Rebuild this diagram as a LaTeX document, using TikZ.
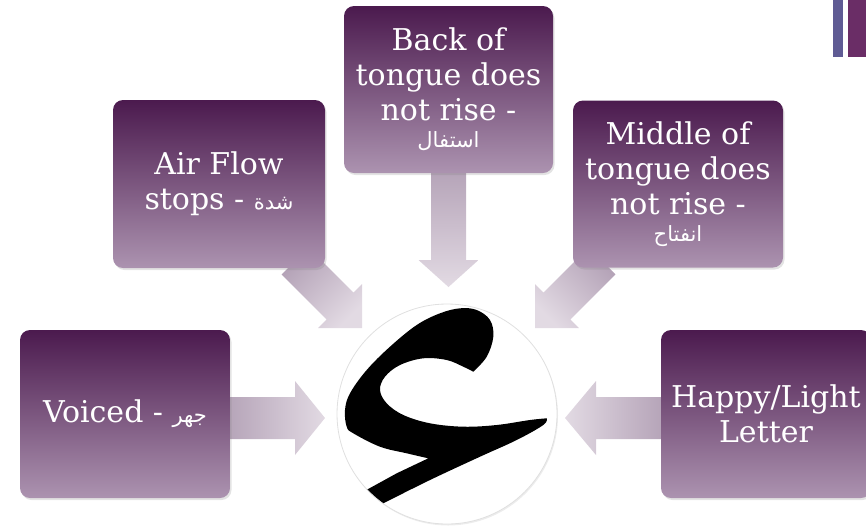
\documentclass[tikz,border=0pt]{standalone}
\usepackage{fontspec}
\usetikzlibrary{calc,shadows}
\TeXXeTstate=1
\newfontfamily\boxfont{DejaVu Serif}
\newfontfamily\arfont[Script=Arabic]{DejaVu Sans}
\definecolor{boxtop}{HTML}{4B1A4E}
\definecolor{boxbot}{HTML}{AC93B0}
\definecolor{arrA}{HTML}{B3A1B6}
\definecolor{arrB}{HTML}{E2DAE3}
\definecolor{barA}{HTML}{5F5B94}
\definecolor{barB}{HTML}{6A2D66}
\newcommand\artxt[1]{{\arfont\fontsize{21}{24}\selectfont\beginR #1\endR}}
\newcommand\blockarr[6]{%
  \coordinate (hb) at ($(#2)!#5!(#1)$);
  \path[top color=arrA, bottom color=arrB, shading angle=#6]
    ($(#1)!#3!90:(#2)$) -- ($(hb)!#3!90:(#2)$) -- ($(hb)!#4!90:(#2)$) -- (#2)
    -- ($(hb)!#4!-90:(#2)$) -- ($(hb)!#3!-90:(#2)$) -- ($(#1)!#3!-90:(#2)$) -- cycle;
}
\tikzset{
  box/.style={rectangle, rounded corners=10pt, top color=boxtop, bottom color=boxbot,
    text=white, align=center, inner sep=0pt,
    font=\boxfont\fontsize{30}{35}\selectfont,
    drop shadow={opacity=0.22, shadow xshift=1.5pt, shadow yshift=-2pt}},
}
\begin{document}
\begin{tikzpicture}[x=1pt,y=1pt]
\useasboundingbox (0,0) rectangle (866,-528);
% top-right bars
\fill[barA] (833,0) rectangle (843,-57);
\fill[barB] (848,0) rectangle (870,-57);

% arrow tips and starts
\coordinate (tAir) at (362,-328);
\coordinate (sAir) at (295,-261);
\coordinate (tBack) at (448.5,-287);
\coordinate (sBack) at (448.5,-165);
\coordinate (tMid) at (535,-328);
\coordinate (sMid) at (602,-261);
\coordinate (tVoi) at (325,-418);
\coordinate (sVoi) at (222,-418);
\coordinate (tHap) at (565,-418);
\coordinate (sHap) at (668,-418);

\blockarr{sAir}{tAir}{19pt}{31pt}{31pt}{45}
\blockarr{sBack}{tBack}{17.5pt}{30pt}{27pt}{0}
\blockarr{sMid}{tMid}{19pt}{31pt}{31pt}{-45}
\blockarr{sVoi}{tVoi}{21pt}{37pt}{30pt}{90}
\blockarr{sHap}{tHap}{21pt}{37pt}{31pt}{-90}

% boxes
\node[box, minimum width=212pt, minimum height=168pt] (air) at (219,-184)
  {Air Flow\\stops - \artxt{شدة}};
\node[box, minimum width=209pt, minimum height=167pt] (back) at (448.5,-89.5)
  {Back of\\tongue does\\not rise -\\[-8pt]\artxt{استفال}};
\node[box, minimum width=210pt, minimum height=167pt] (mid) at (678,-184)
  {Middle of\\tongue does\\not rise -\\[-8pt]\artxt{انفتاح}};
\node[box, minimum width=210pt, minimum height=168pt] (voiced) at (125,-414)
  {Voiced - \artxt{جهر}};
\node[box, minimum width=210pt, minimum height=168pt] (happy) at (766,-414)
  {Happy/Light\\Letter};

% central circle with the letter
\node[circle, minimum size=220pt, inner sep=0pt, fill=white, draw=black!12, line width=0.8pt,
  drop shadow={opacity=0.15, shadow xshift=1pt, shadow yshift=-1.5pt}] (ain) at (447,-414) {};
\begin{scope}
\clip (ain.center) circle (109.5pt);
\fill[black] plot[smooth, tension=0.6] coordinates {(473.3,-371.7) (486.7,-356.7) (493.3,-336.7) (490,-320) (476.7,-310) (460,-308.3) (440,-313.3) (416.7,-325) (390,-346.7) (366.7,-370) (350,-393.3) (345,-410) (346.7,-426.7) (353.3,-433.3) (380,-446.7) (406.7,-453.3) (428.3,-458.3)}
 -- (396.7,-473.3) -- (330,-510) -- (345,-535) -- (383.3,-503.3)
 -- plot[smooth, tension=0.6] coordinates {(383.3,-503.3) (430,-480) (480,-456.7) (516.7,-440) (543.3,-425) (546.7,-418.3)}
 -- plot[smooth, tension=0.6] coordinates {(546.7,-418.3) (530,-420) (496.7,-425) (463.3,-426.7) (430,-423.3) (403.3,-415) (386.7,-403.3) (380,-390) (385,-376.7) (400,-365) (423.3,-358.3) (446.7,-360) (463.3,-366.7) (473.3,-371.7)} -- cycle;
\end{scope}
\end{tikzpicture}
\end{document}
